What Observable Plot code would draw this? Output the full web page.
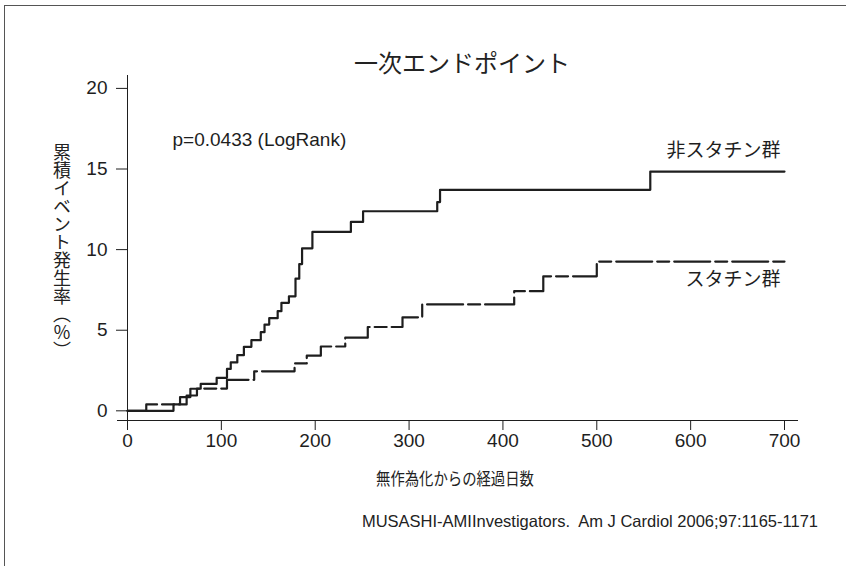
<!DOCTYPE html>
<html>
<head>
<meta charset="utf-8">
<script src="https://cdn.jsdelivr.net/npm/d3@7"></script>
<script src="https://cdn.jsdelivr.net/npm/@observablehq/plot@0.6"></script>
<style>
  body { margin: 0; background: #fff; }
  #wrap { position: relative; width: 846px; height: 566px; overflow: hidden; background: #fff;
          font-family: "Liberation Sans", Arial, sans-serif; color: #222; }
  #border { position: absolute; left: 4px; top: 5px; width: 900px; height: 700px;
            border-top: 1px solid #555; border-left: 1px solid #555; }
  #chart { position: absolute; left: 0; top: 0; }
  .jp { font-family: "Noto Sans CJK JP", sans-serif; }
  #title { position: absolute; left: 262px; width: 400px; top: 48px; text-align: center;
           font-size: 24px; line-height: 27px; }
  #xlabel { position: absolute; left: 255px; width: 400px; top: 468px; text-align: center;
            font-size: 17.5px; line-height: 20px; transform: scaleX(0.82); }
  #ylabel { position: absolute; left: 53px; top: 143px; writing-mode: vertical-rl;
            font-size: 18px; line-height: 18px; }
  #caption { position: absolute; right: 28px; top: 512px; font-size: 16.5px; line-height: 18px; white-space: pre; }
</style>
</head>
<body>
<div id="wrap">
  <div id="border"></div>
  <div id="chart"></div>
  <div id="title" class="jp"></div>
  <div id="ylabel" class="jp"></div>
  <div id="xlabel" class="jp"></div>
  <div id="caption"></div>
</div>
<script>
// ---- data ----
const titleText = "一次エンドポイント";
const xLabelText = "無作為化からの経過日数";
const yLabelText = "累積イベント発生率（％）";
const captionText = "MUSASHI-AMIInvestigators.  Am J Cardiol 2006;97:1165-1171";
const pValueText = "p=0.0433 (LogRank)";
const seriesNames = ["非スタチン群", "スタチン群"];

const xTicks = [0, 100, 200, 300, 400, 500, 600, 700];
const yTicks = [0, 5, 10, 15, 20];

const nonStatinDays  = [0, 49, 56, 67, 78, 95, 106, 110, 117, 124, 132, 142, 146, 151, 160, 164, 172, 179, 183, 186, 197, 238, 251, 330, 333, 557, 700];
const nonStatinRates = [0, 0.4, 0.85, 1.37, 1.67, 2.05, 2.6, 3.0, 3.45, 3.97, 4.38, 4.88, 5.35, 5.75, 6.18, 6.7, 7.1, 8.2, 9.1, 10.08, 11.1, 11.72, 12.38, 12.95, 13.71, 14.84, 14.84];

const statinDays  = [0, 20, 63, 74, 106, 135, 178, 191, 206, 232, 256, 293, 314, 412, 443, 500, 700];
const statinRates = [0, 0.4, 0.95, 1.38, 1.92, 2.45, 2.94, 3.42, 3.99, 4.54, 5.2, 5.8, 6.6, 7.42, 8.34, 9.26, 9.26];

// ---- build tables ----
const nonStatin = nonStatinDays.map((d, i) => ({day: d, rate: nonStatinRates[i]}));
const statin = statinDays.map((d, i) => ({day: d, rate: statinRates[i]}));
const endLabels = [
  {...nonStatin[nonStatin.length - 1], text: seriesNames[0]},
  {...statin[statin.length - 1], text: seriesNames[1]}
];

document.getElementById("title").textContent = titleText;
document.getElementById("xlabel").textContent = xLabelText;
document.getElementById("ylabel").textContent = yLabelText;
document.getElementById("caption").textContent = captionText;

const ink = "#1e1e1e";
const chart = Plot.plot({
  width: 846,
  height: 460,
  marginLeft: 127,
  marginRight: 62,
  marginTop: 75,
  marginBottom: 40,
  x: {domain: [0, 700]},
  y: {domain: [-0.6, 20.8]},
  style: {fontFamily: "'Liberation Sans', Arial, sans-serif", fontSize: "19px", color: ink, background: "transparent", overflow: "visible"},
  marks: [
    Plot.frame({anchor: "left", stroke: ink}),
    Plot.frame({anchor: "bottom", stroke: ink, insetLeft: -10, insetRight: -13}),
    Plot.axisY({ticks: yTicks, tickSize: 11, tickPadding: 9, label: null, fontSize: 19, stroke: ink}),
    Plot.axisX({ticks: xTicks, tickSize: 10, tickPadding: 3, label: null, fontSize: 19, stroke: ink}),
    Plot.line(nonStatin, {x: "day", y: "rate", curve: "step-after", stroke: ink, strokeWidth: 2.2}),
    Plot.line(statin, {x: "day", y: "rate", curve: "step-after", stroke: ink, strokeWidth: 2.2, strokeDasharray: "36,5,12,5"}),
    Plot.text([endLabels[0]], {x: "day", y: "rate", text: "text", textAnchor: "end", dx: -4, dy: -21,
      fontFamily: "'Noto Sans CJK JP', sans-serif", fontSize: 19, fill: ink}),
    Plot.text([endLabels[1]], {x: "day", y: "rate", text: "text", textAnchor: "end", dx: -4, dy: 18,
      fontFamily: "'Noto Sans CJK JP', sans-serif", fontSize: 19, fill: ink}),
    Plot.text([pValueText], {frameAnchor: "top-left", lineAnchor: "middle", text: d => d, textAnchor: "start", dx: 45, dy: 64,
      fontSize: 19, fill: ink})
  ]
});
document.getElementById("chart").appendChild(chart);
</script>
</body>
</html>
